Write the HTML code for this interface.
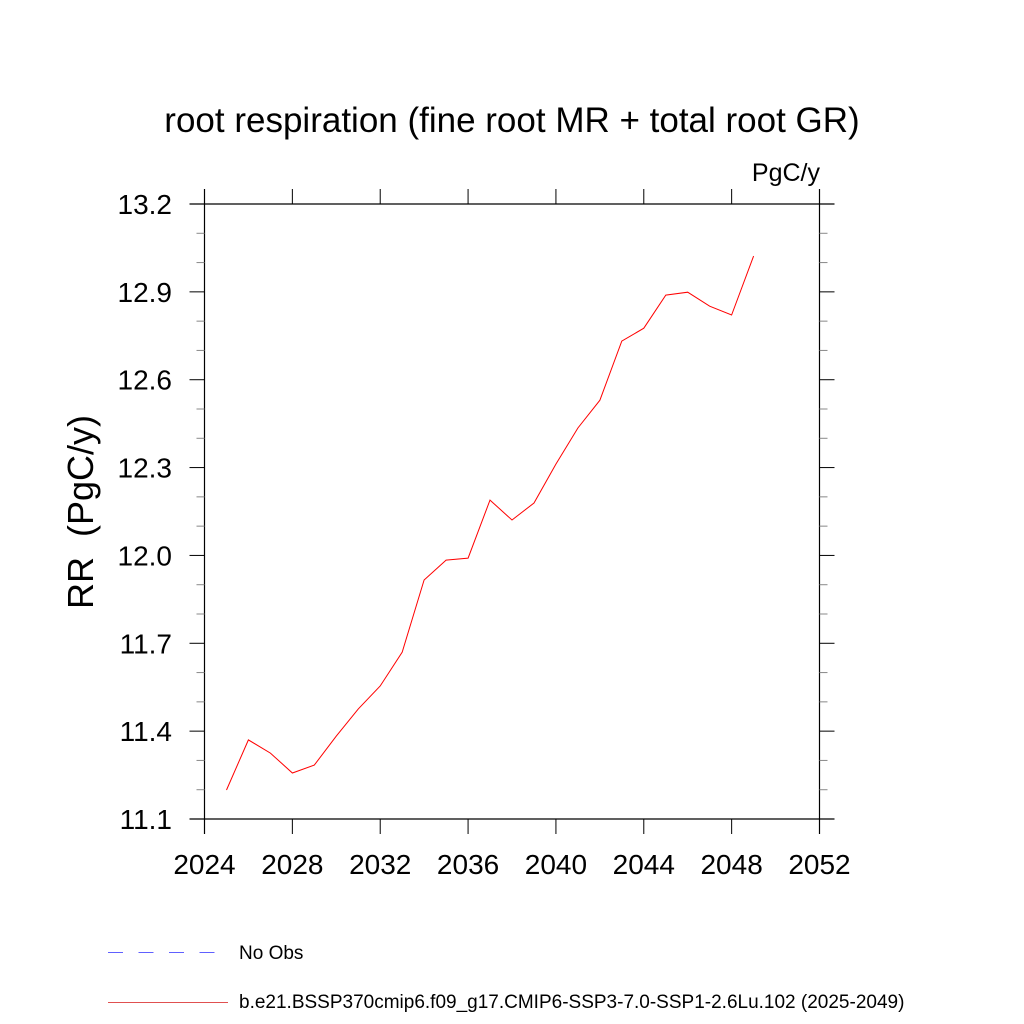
<!DOCTYPE html>
<html><head><meta charset="utf-8"><style>
html,body{margin:0;padding:0;background:#fff;}
svg{display:block;font-family:"Liberation Sans",sans-serif;}
</style></head><body>
<svg id="chart" width="1024" height="1024" viewBox="0 0 1024 1024">
<text x="512" y="132" font-size="35" text-anchor="middle">root respiration (fine root MR + total root GR)</text>
<text x="820" y="181" font-size="25" text-anchor="end">PgC/y</text>
<text transform="translate(93,512) rotate(-90)" font-size="36" text-anchor="middle">RR&#160; (PgC/y)</text>
<g id="axes"></g>
<g id="series"></g>
<g>
<line x1="108" y1="952.5" x2="218" y2="952.5" stroke="#6060ff" stroke-width="1" stroke-dasharray="15,15.5"/>
<text x="239" y="959" font-size="19">No Obs</text>
<line x1="108" y1="1002.5" x2="228" y2="1002.5" stroke="#e05050" stroke-width="1"/>
<text x="239" y="1008" font-size="19">b.e21.BSSP370cmip6.f09_g17.CMIP6-SSP3-7.0-SSP1-2.6Lu.102 (2025-2049)</text>
</g>
</svg>
<script>
const years = [2025,2026,2027,2028,2029,2030,2031,2032,2033,2034,2035,2036,2037,2038,2039,2040,2041,2042,2043,2044,2045,2046,2047,2048,2049];
const rrValues = [11.199,11.37,11.325,11.257,11.284,11.383,11.476,11.554,11.67,11.916,11.984,11.991,12.189,12.121,12.179,12.312,12.435,12.53,12.732,12.776,12.889,12.899,12.851,12.821,13.022];
const xTicks = [2024,2028,2032,2036,2040,2044,2048,2052];
const yTicks = [11.1,11.4,11.7,12.0,12.3,12.6,12.9,13.2];
const yTickLabels = ["11.1","11.4","11.7","12.0","12.3","12.6","12.9","13.2"];

const L=204.5,R=819.5,T=204,B=819;
const xMin=2024,xMax=2052,yMin=11.1,yMax=13.2;
const xs=v=>L+(v-xMin)/(xMax-xMin)*(R-L);
const ys=v=>B-(v-yMin)/(yMax-yMin)*(B-T);
const NS="http://www.w3.org/2000/svg";
const axes=document.getElementById('axes');
function mk(tag,attrs,parent){const e=document.createElementNS(NS,tag);for(const k in attrs)e.setAttribute(k,attrs[k]);parent.appendChild(e);return e;}

const fr=[[L-15,T,R+15,T],[L-15,B,R+15,B],[L,T-15,L,B+15],[R,T-15,R,B+15]];
fr.forEach(f=>{
  const l=mk('line',{x1:f[0],y1:f[1],x2:f[2],y2:f[3],stroke:'#000','stroke-width':1.2},axes);
  
  
});

for(let i=0;i<=21;i++){
  const v=yMin+i*0.1, y=ys(v), major=(i%3===0);
  if(major) continue;
  const len=8;
  const t1=mk('line',{x1:L-len,y1:y,x2:L,y2:y,stroke:'#888','stroke-width':1},axes);
  
  
  const t2=mk('line',{x1:R,y1:y,x2:R+len,y2:y,stroke:'#888','stroke-width':1},axes);
  
  
}
yTicks.forEach((v,i)=>{
  const y=ys(v);
  const a=mk('line',{x1:L-15,y1:y,x2:L,y2:y,stroke:'#000','stroke-width':1},axes);
  
  
  const b=mk('line',{x1:R,y1:y,x2:R+15,y2:y,stroke:'#000','stroke-width':1},axes);
  
  
  const t=mk('text',{x:172,y:y+10,'font-size':28,'text-anchor':'end'},axes);
  t.textContent=yTickLabels[i];
  
  
});
xTicks.forEach(v=>{
  const x=xs(v);
  const a=mk('line',{x1:x,y1:B,x2:x,y2:B+15,stroke:'#000','stroke-width':1},axes);
  
  
  const b=mk('line',{x1:x,y1:T-15,x2:x,y2:T,stroke:'#000','stroke-width':1},axes);
  
  
  const t=mk('text',{x:x,y:874,'font-size':28,'text-anchor':'middle'},axes);
  t.textContent=String(v);
  
  
});

const pts=years.map((yr,i)=>xs(yr).toFixed(1)+','+ys(rrValues[i]).toFixed(1)).join(' ');
const line=mk('polyline',{points:pts,fill:'none',stroke:'#ff0000','stroke-width':1},document.getElementById('series'));


</script>
</body></html>
